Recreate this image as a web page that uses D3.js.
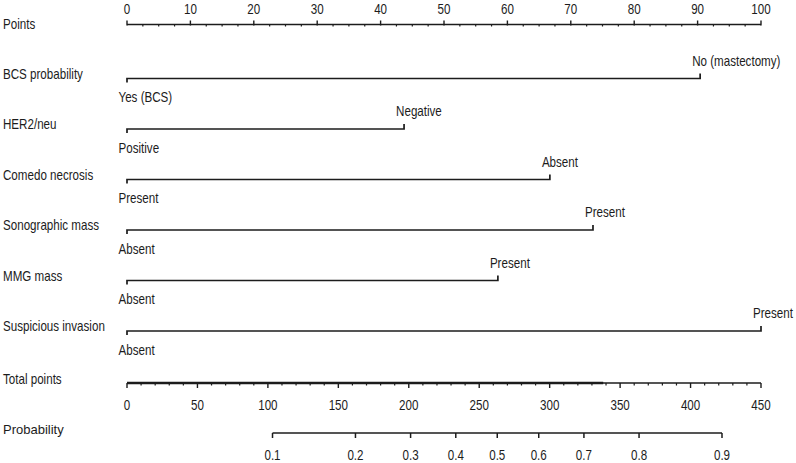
<!DOCTYPE html>
<html>
<head>
<meta charset="utf-8">
<script src="https://cdn.jsdelivr.net/npm/d3@7/dist/d3.min.js"></script>
<style>
  html, body { margin: 0; padding: 0; background: #ffffff; }
  svg { display: block; }
  text { font-family: "Liberation Sans", Arial, sans-serif; }
</style>
</head>
<body>
<svg id="chart" width="796" height="463"></svg>
<script>
// ---- Data ----
const pointTicks = [0, 10, 20, 30, 40, 50, 60, 70, 80, 90, 100];
const pointMinorStep = 2.5;
const variables = ["BCS probability", "HER2/neu", "Comedo necrosis", "Sonographic mass", "MMG mass", "Suspicious invasion"];
const lowLabels = ["Yes (BCS)", "Positive", "Present", "Absent", "Absent", "Absent"];
const highLabels = ["No (mastectomy)", "Negative", "Absent", "Present", "Present", "Present"];
const highPoints = [90.4, 43.7, 66.7, 73.5, 58.5, 100];
const totalTicks = [0, 50, 100, 150, 200, 250, 300, 350, 400, 450];
const totalMinorStep = 10;
const totalOverlapEnd = 338;
const probTicks = [0.1, 0.2, 0.3, 0.4, 0.5, 0.6, 0.7, 0.8, 0.9];
const totalAtHalf = 262.8;      // total points where probability = 0.5
const pointsPerLogit = 72.6;    // total points per unit of log-odds

// ---- Layout ----
const svg = d3.select("#chart");
const ink = "#1c1c1c";
const xPts = d3.scaleLinear().domain([0, 100]).range([127, 761]);
const xTot = d3.scaleLinear().domain([0, 450]).range([127, 761]);
const probToTotal = p => totalAtHalf + pointsPerLogit * Math.log(p / (1 - p));

const yAxisPts = 24.5;
const rowY = d3.scalePoint().domain(variables).range([78.5, 331]);
const yAxisTot = 383;
const yAxisProb = 433;
const fs = 14.5, squeeze = 0.8;

const g = svg.append("g");

// condensed-looking text: horizontally squeezed about its anchor point
function label(text, x, y, anchor) {
  return g.append("text")
    .attr("transform", `translate(${x},${y}) scale(${squeeze},1)`)
    .attr("text-anchor", anchor || "start")
    .attr("font-size", fs)
    .attr("fill", ink)
    .text(text);
}

// ---- Points axis ----
label("Points", 3, 28.5);
g.append("line").attr("x1", xPts(0)).attr("x2", xPts(100))
  .attr("y1", yAxisPts).attr("y2", yAxisPts)
  .attr("stroke", ink).attr("stroke-width", 1.4);
const ptsMinor = d3.range(0, 100 + 1e-9, pointMinorStep).filter(v => pointTicks.indexOf(v) < 0);
g.selectAll(".ptsMinor").data(ptsMinor).enter().append("line")
  .attr("x1", d => xPts(d)).attr("x2", d => xPts(d))
  .attr("y1", yAxisPts).attr("y2", yAxisPts + 2)
  .attr("stroke", ink).attr("stroke-width", 1.2);
g.selectAll(".ptsMajor").data(pointTicks).enter().append("line")
  .attr("x1", d => xPts(d)).attr("x2", d => xPts(d))
  .attr("y1", yAxisPts + 1).attr("y2", yAxisPts - 4)
  .attr("stroke", ink).attr("stroke-width", 1.4);
pointTicks.forEach(d => label(String(d), xPts(d), 13.5, "middle"));

// ---- Variable rows ----
variables.forEach((v, i) => {
  const y = rowY(v);
  label(v, 3, y);
  const x0 = xPts(0), x1 = xPts(highPoints[i]);
  g.append("path")
    .attr("d", `M${x0},${y + 4}V${y}H${x1}V${y - 5}`)
    .attr("fill", "none").attr("stroke", ink).attr("stroke-width", 1.7);
  label(lowLabels[i], x0 - 8.5, y + 23.5);
  label(highLabels[i], x1 - 8, y - 13);
});

// ---- Total points axis ----
label("Total points", 3, 383.5);
g.append("line").attr("x1", xTot(0)).attr("x2", xTot(450))
  .attr("y1", yAxisTot).attr("y2", yAxisTot)
  .attr("stroke", ink).attr("stroke-width", 1.4);
g.append("line").attr("x1", xTot(0)).attr("x2", xTot(totalOverlapEnd))
  .attr("y1", yAxisTot).attr("y2", yAxisTot)
  .attr("stroke", ink).attr("stroke-width", 2.3);
const totMinor = d3.range(0, 450 + 1e-9, totalMinorStep).filter(v => totalTicks.indexOf(v) < 0);
g.selectAll(".totMinor").data(totMinor).enter().append("line")
  .attr("x1", d => xTot(d)).attr("x2", d => xTot(d))
  .attr("y1", yAxisTot).attr("y2", yAxisTot + 2.5)
  .attr("stroke", ink).attr("stroke-width", 1.2);
g.selectAll(".totMajor").data(totalTicks).enter().append("line")
  .attr("x1", d => xTot(d)).attr("x2", d => xTot(d))
  .attr("y1", yAxisTot).attr("y2", yAxisTot + 5)
  .attr("stroke", ink).attr("stroke-width", 1.4);
totalTicks.forEach(d => label(String(d), xTot(d), 410, "middle"));

// ---- Probability axis ----
g.append("text").attr("x", 3).attr("y", 433.5)
  .attr("font-size", 13).attr("fill", ink).text("Probability");
const pMin = d3.min(probTicks), pMax = d3.max(probTicks);
g.append("line").attr("x1", xTot(probToTotal(pMin))).attr("x2", xTot(probToTotal(pMax)))
  .attr("y1", yAxisProb).attr("y2", yAxisProb)
  .attr("stroke", ink).attr("stroke-width", 1.5);
g.selectAll(".probTick").data(probTicks).enter().append("line")
  .attr("x1", d => xTot(probToTotal(d))).attr("x2", d => xTot(probToTotal(d)))
  .attr("y1", yAxisProb).attr("y2", yAxisProb + 5)
  .attr("stroke", ink).attr("stroke-width", 1.5);
probTicks.forEach(d => label(d3.format(".1f")(d), xTot(probToTotal(d)), 460, "middle"));
</script>
</body>
</html>
